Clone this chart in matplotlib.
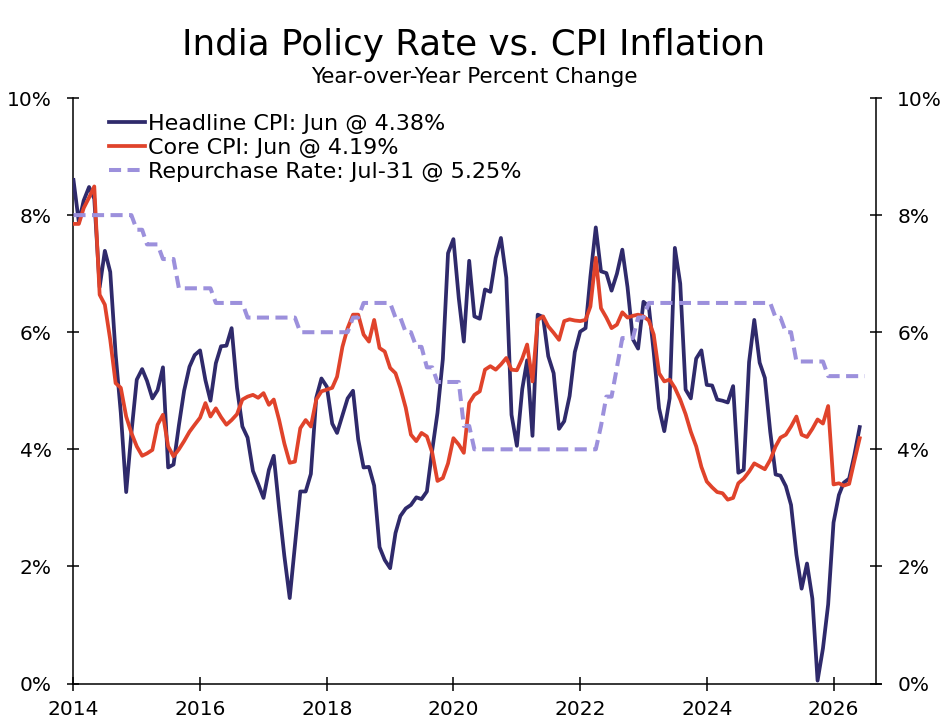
import pandas as pd
import matplotlib.pyplot as plt
import matplotlib.dates as mdates
from matplotlib.ticker import FuncFormatter

# Monthly readings, Jan 2014 onward (year-over-year %)
headline_cpi = [
    8.60, 7.88, 8.25, 8.48, 8.28, 6.77, 7.39, 7.03, 5.63, 4.62, 3.27, 4.28,  # 2014
    5.19, 5.37, 5.17, 4.87, 5.01, 5.40, 3.69, 3.74, 4.41, 5.00, 5.41, 5.61,  # 2015
    5.69, 5.18, 4.83, 5.47, 5.76, 5.77, 6.07, 5.05, 4.39, 4.20, 3.63, 3.41,  # 2016
    3.17, 3.65, 3.89, 2.99, 2.18, 1.46, 2.36, 3.28, 3.28, 3.58, 4.88, 5.21,  # 2017
    5.07, 4.44, 4.28, 4.58, 4.87, 5.00, 4.17, 3.69, 3.70, 3.38, 2.33, 2.11,  # 2018
    1.97, 2.57, 2.86, 2.99, 3.05, 3.18, 3.15, 3.28, 3.99, 4.62, 5.54, 7.35,  # 2019
    7.59, 6.58, 5.84, 7.22, 6.27, 6.23, 6.73, 6.69, 7.27, 7.61, 6.93, 4.59,  # 2020
    4.06, 5.03, 5.52, 4.23, 6.30, 6.26, 5.59, 5.30, 4.35, 4.48, 4.91, 5.66,  # 2021
    6.01, 6.07, 6.95, 7.79, 7.04, 7.01, 6.71, 7.00, 7.41, 6.77, 5.88, 5.72,  # 2022
    6.52, 6.44, 5.66, 4.70, 4.31, 4.87, 7.44, 6.83, 5.02, 4.87, 5.55, 5.69,  # 2023
    5.10, 5.09, 4.85, 4.83, 4.80, 5.08, 3.60, 3.65, 5.49, 6.21, 5.48, 5.22,  # 2024
    4.30, 3.57, 3.55, 3.37, 3.05, 2.20, 1.62, 2.05, 1.45, 0.05, 0.60, 1.35,  # 2025
    2.75, 3.22, 3.43, 3.50, 3.90, 4.38,                                      # 2026
]

core_cpi = [
    7.85, 7.85, 8.12, 8.30, 8.49, 6.64, 6.47, 5.87, 5.13, 5.05, 4.56, 4.28,  # 2014
    4.05, 3.89, 3.93, 3.99, 4.42, 4.59, 4.05, 3.88, 4.00, 4.14, 4.30, 4.42,  # 2015
    4.54, 4.79, 4.56, 4.70, 4.55, 4.42, 4.50, 4.60, 4.85, 4.90, 4.93, 4.88,  # 2016
    4.96, 4.76, 4.85, 4.50, 4.10, 3.77, 3.79, 4.36, 4.50, 4.39, 4.85, 4.99,  # 2017
    5.02, 5.05, 5.24, 5.75, 6.07, 6.30, 6.30, 5.96, 5.84, 6.21, 5.73, 5.67,  # 2018
    5.39, 5.30, 5.05, 4.71, 4.25, 4.14, 4.28, 4.22, 3.94, 3.46, 3.51, 3.76,  # 2019
    4.19, 4.08, 3.94, 4.79, 4.93, 4.99, 5.36, 5.42, 5.36, 5.45, 5.56, 5.36,  # 2020
    5.35, 5.55, 5.79, 5.16, 6.21, 6.27, 6.10, 5.99, 5.87, 6.19, 6.22, 6.20,  # 2021
    6.19, 6.21, 6.44, 7.27, 6.41, 6.25, 6.07, 6.13, 6.34, 6.25, 6.28, 6.30,  # 2022
    6.27, 6.20, 5.96, 5.30, 5.16, 5.19, 5.05, 4.85, 4.60, 4.30, 4.05, 3.70,  # 2023
    3.45, 3.35, 3.27, 3.25, 3.14, 3.17, 3.42, 3.50, 3.62, 3.76, 3.71, 3.66,  # 2024
    3.82, 4.05, 4.20, 4.25, 4.39, 4.56, 4.25, 4.21, 4.35, 4.51, 4.44, 4.74,  # 2025
    3.40, 3.42, 3.38, 3.41, 3.80, 4.19,                                      # 2026
]

# RBI repurchase rate, month-end, Jan 2014 - Jul 2026
repo_rate = [
    8.00, 8.00, 8.00, 8.00, 8.00, 8.00, 8.00, 8.00, 8.00, 8.00, 8.00, 8.00,  # 2014
    7.75, 7.75, 7.50, 7.50, 7.50, 7.25, 7.25, 7.25, 6.75, 6.75, 6.75, 6.75,  # 2015
    6.75, 6.75, 6.75, 6.50, 6.50, 6.50, 6.50, 6.50, 6.50, 6.25, 6.25, 6.25,  # 2016
    6.25, 6.25, 6.25, 6.25, 6.25, 6.25, 6.25, 6.00, 6.00, 6.00, 6.00, 6.00,  # 2017
    6.00, 6.00, 6.00, 6.00, 6.00, 6.25, 6.25, 6.50, 6.50, 6.50, 6.50, 6.50,  # 2018
    6.50, 6.25, 6.25, 6.00, 6.00, 5.75, 5.75, 5.40, 5.40, 5.15, 5.15, 5.15,  # 2019
    5.15, 5.15, 4.40, 4.40, 4.00, 4.00, 4.00, 4.00, 4.00, 4.00, 4.00, 4.00,  # 2020
    4.00, 4.00, 4.00, 4.00, 4.00, 4.00, 4.00, 4.00, 4.00, 4.00, 4.00, 4.00,  # 2021
    4.00, 4.00, 4.00, 4.00, 4.40, 4.90, 4.90, 5.40, 5.90, 5.90, 5.90, 6.25,  # 2022
    6.25, 6.50, 6.50, 6.50, 6.50, 6.50, 6.50, 6.50, 6.50, 6.50, 6.50, 6.50,  # 2023
    6.50, 6.50, 6.50, 6.50, 6.50, 6.50, 6.50, 6.50, 6.50, 6.50, 6.50, 6.50,  # 2024
    6.50, 6.25, 6.25, 6.00, 6.00, 5.50, 5.50, 5.50, 5.50, 5.50, 5.50, 5.25,  # 2025
    5.25, 5.25, 5.25, 5.25, 5.25, 5.25, 5.25,                                # 2026
]

labels = ['Headline CPI: Jun @ 4.38%', 'Core CPI: Jun @ 4.19%',
          'Repurchase Rate: Jul-31 @ 5.25%']

cpi_dates = pd.date_range('2014-01-01', periods=len(headline_cpi), freq='MS')
repo_dates = pd.date_range('2014-01-01', periods=len(repo_rate), freq='MS')

plt.rcParams['font.family'] = 'DejaVu Sans'

fig = plt.figure(figsize=(9.48, 7.26), dpi=100)
ax = fig.add_axes([0.0775, 0.0585, 0.8462, 0.8065])

ax.plot(cpi_dates, headline_cpi, color='#2F2A6B', lw=2.7, zorder=3, label=labels[0])
ax.plot(cpi_dates, core_cpi, color='#E0432B', lw=2.7, zorder=4, label=labels[1])
ax.plot(repo_dates, repo_rate, color='#9C90DC', lw=2.9, ls=(0, (3, 1.6)),
        zorder=5, label=labels[2])

ax.set_ylim(0, 10)
ax.set_xlim(pd.Timestamp('2014-01-01'), pd.Timestamp('2026-09-01'))

ax.xaxis.set_major_locator(mdates.YearLocator(2))
ax.xaxis.set_major_formatter(mdates.DateFormatter('%Y'))
ax.set_yticks(range(0, 11, 2))
ax.yaxis.set_major_formatter(FuncFormatter(lambda v, p: f'{v:.0f}%'))

ax.spines['top'].set_visible(False)
for s in ['left', 'right', 'bottom']:
    ax.spines[s].set_linewidth(1.1)
# x axis line runs a little past the right spine
ax.plot([1, 1.007], [0, 0], transform=ax.transAxes, color='black', lw=1.1,
        clip_on=False, zorder=6)
ax.tick_params(axis='y', direction='inout', length=9, width=1.1, pad=11,
               labelsize=14.5, left=True, right=True, labelright=True)
ax.tick_params(axis='x', direction='inout', length=10, width=1.1, pad=7,
               labelsize=14.5)

leg = ax.legend(loc='upper left', bbox_to_anchor=(0.044, 0.973), frameon=False,
                fontsize=16, handlelength=1.65, handletextpad=0.12,
                labelspacing=0.19, borderpad=0, borderaxespad=0)

fig.text(0.5, 1 - 55 / 726, 'India Policy Rate vs. CPI Inflation',
         ha='center', va='baseline', fontsize=25.7)
fig.text(0.5, 1 - 83 / 726, 'Year-over-Year Percent Change',
         ha='center', va='baseline', fontsize=15.5)

fig.savefig('out.png', dpi=100)
